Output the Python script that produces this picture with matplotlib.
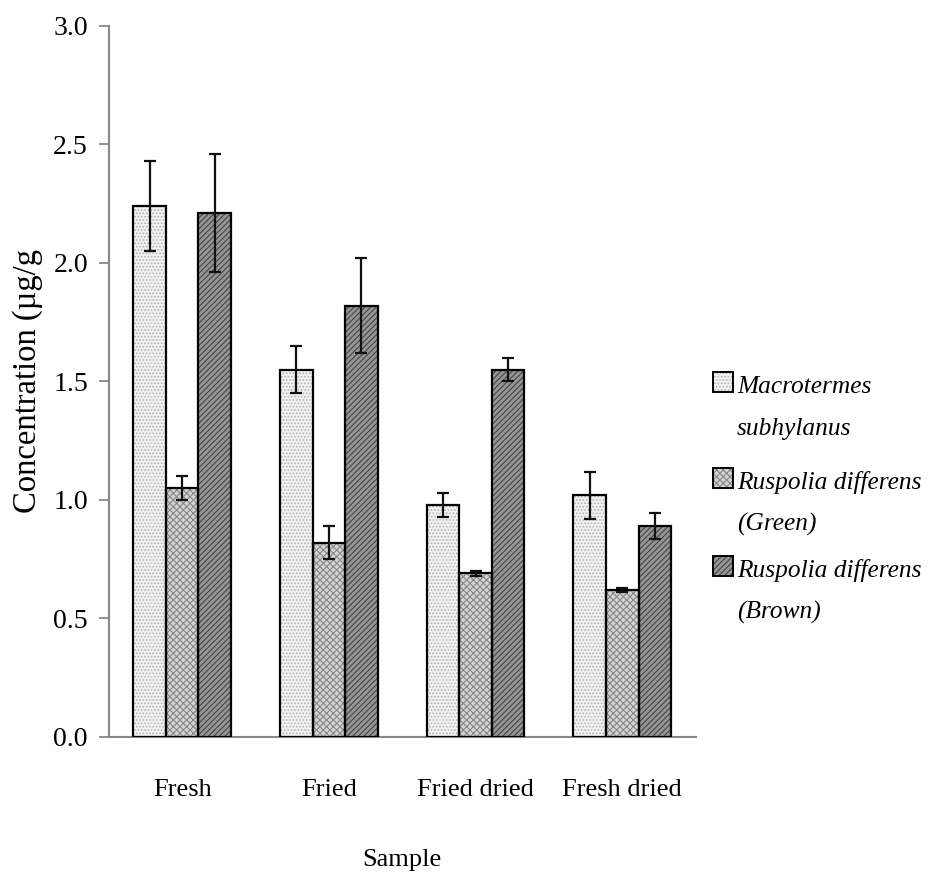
import matplotlib
matplotlib.use("Agg")
import matplotlib.pyplot as plt
import numpy as np
from matplotlib.patches import Rectangle

plt.rcParams['font.family'] = ['Liberation Serif', 'DejaVu Serif']
plt.rcParams['hatch.linewidth'] = 0.8

categories = ["Fresh", "Fried", "Fried dried", "Fresh dried"]
series_lines = [["Macrotermes", "subhylanus"], ["Ruspolia differens", "(Green)"], ["Ruspolia differens", "(Brown)"]]
macrotermes = [2.24, 1.55, 0.98, 1.02]
macrotermes_err = [0.19, 0.10, 0.05, 0.10]
green = [1.05, 0.82, 0.69, 0.62]
green_err = [0.05, 0.07, 0.01, 0.01]
brown = [2.21, 1.82, 1.55, 0.89]
brown_err = [0.25, 0.20, 0.05, 0.055]
yticks = [0.0, 0.5, 1.0, 1.5, 2.0, 2.5, 3.0]

values = [macrotermes, green, brown]
errors = [macrotermes_err, green_err, brown_err]
faces = ['#f2f2f2', '#d4d4d4', '#959595']
hatchcols = ['#b0b0b0', '#888888', '#454545']
hatches = ['.....', 'xxxxx', '//////']

fig = plt.figure(figsize=(9.30, 8.81), dpi=100)
ax = fig.add_axes([0.117, 0.1635, 0.631, 0.807])

x = np.arange(len(categories))
w = 0.222
for i in range(3):
    pos = x + (i - 1) * w
    ax.bar(pos, values[i], w, color=faces[i], edgecolor=hatchcols[i], hatch=hatches[i], linewidth=0, zorder=2)
    ax.bar(pos, values[i], w, fill=False, edgecolor='black', linewidth=1.6, zorder=3)
    ax.errorbar(pos, values[i], yerr=errors[i], fmt='none', ecolor='#111111', elinewidth=1.6,
                capsize=4.3, capthick=1.6, zorder=4)

ax.set_xlim(-0.5, 3.5)
ax.set_ylim(0, 3.0)
ax.set_yticks(yticks)
ax.set_yticklabels([f"{v:.1f}" for v in yticks], fontsize=20)
ax.set_xticks(x)
ax.set_xticklabels(categories, fontsize=19)
ax.tick_params(axis='x', length=0, pad=30)
ax.tick_params(axis='y', length=7, width=1.3, color='#888888', direction='out', pad=8)
for s in ['top', 'right']:
    ax.spines[s].set_visible(False)
for s in ['left', 'bottom']:
    ax.spines[s].set_color('#888888')
    ax.spines[s].set_linewidth(1.5)

ax.set_xlabel("Sample", fontsize=19)
ax.xaxis.set_label_coords(0.5, -0.158)
ax.set_ylabel("Concentration (µg/g", fontsize=23.5)
ax.yaxis.set_label_coords(-0.112, 0.5)

# manual legend
H = 881.0
Wd = 930.0
first_baselines = [393, 489, 577]
line_gap = 42
for i in range(3):
    b0 = first_baselines[i]
    bx, bs = 713, 20
    by = b0 - 21
    fig.patches.append(Rectangle((bx / Wd, 1 - (by + bs) / H), bs / Wd, bs / H, transform=fig.transFigure,
                                 facecolor=faces[i], edgecolor=hatchcols[i], hatch=hatches[i], linewidth=0))
    fig.patches.append(Rectangle((bx / Wd, 1 - (by + bs) / H), bs / Wd, bs / H, transform=fig.transFigure,
                                 fill=False, edgecolor='black', linewidth=1.4))
    for j, line in enumerate(series_lines[i]):
        fig.text(737 / Wd, 1 - (b0 + j * line_gap) / H, line, fontsize=18.3, style='italic',
                 ha='left', va='baseline')

fig.savefig("out.png", dpi=100)
